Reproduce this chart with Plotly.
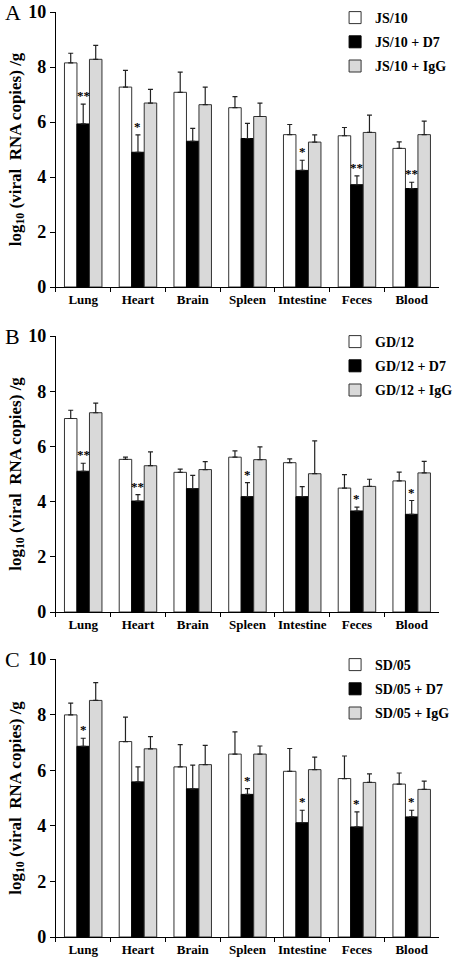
import plotly.graph_objects as go

organs = ["Lung", "Heart", "Brain", "Spleen", "Intestine", "Feces", "Blood"]

# Panel A (JS/10)
a_names = ["JS/10", "JS/10 + D7", "JS/10 + IgG"]
a_virus = [8.15, 7.27, 7.08, 6.52, 5.54, 5.50, 5.04]
a_virus_err = [0.35, 0.61, 0.73, 0.40, 0.37, 0.30, 0.24]
a_d7 = [5.93, 4.90, 5.30, 5.40, 4.24, 3.72, 3.58]
a_d7_err = [0.72, 0.63, 0.47, 0.55, 0.37, 0.32, 0.23]
a_igg = [8.28, 6.69, 6.63, 6.20, 5.27, 5.62, 5.54]
a_igg_err = [0.51, 0.50, 0.64, 0.49, 0.26, 0.63, 0.49]
a_sig = ["**", "*", "", "", "*", "**", "**"]

# Panel B (GD/12)
b_names = ["GD/12", "GD/12 + D7", "GD/12 + IgG"]
b_virus = [7.01, 5.53, 5.06, 5.61, 5.41, 4.49, 4.75]
b_virus_err = [0.30, 0.08, 0.12, 0.23, 0.14, 0.49, 0.32]
b_d7 = [5.10, 4.02, 4.47, 4.18, 4.18, 3.66, 3.54]
b_d7_err = [0.29, 0.23, 0.48, 0.51, 0.36, 0.14, 0.50]
b_igg = [7.22, 5.30, 5.16, 5.52, 5.01, 4.55, 5.04]
b_igg_err = [0.35, 0.50, 0.29, 0.46, 1.19, 0.26, 0.42]
b_sig = ["**", "**", "", "*", "", "*", "*"]

# Panel C (SD/05)
c_names = ["SD/05", "SD/05 + D7", "SD/05 + IgG"]
c_virus = [7.99, 7.03, 6.12, 6.58, 5.96, 5.70, 5.50]
c_virus_err = [0.42, 0.88, 0.80, 0.80, 0.82, 0.81, 0.40]
c_d7 = [6.86, 5.58, 5.33, 5.13, 4.11, 3.96, 4.32]
c_d7_err = [0.29, 0.54, 0.85, 0.21, 0.45, 0.54, 0.24]
c_igg = [8.51, 6.77, 6.20, 6.58, 6.02, 5.56, 5.31]
c_igg_err = [0.64, 0.44, 0.69, 0.29, 0.45, 0.31, 0.30]
c_sig = ["*", "", "", "*", "*", "*", "*"]

panel_letters = ["A", "B", "C"]
y_title = "log<sub>10</sub> (viral  RNA copies) /g"

FONT = "Liberation Serif, Times New Roman, serif"
W, H = 458, 962
x_dom = [58 / W, 456 / W]
y_px = [(12, 287), (336, 612), (659, 937)]

fills = ["#ffffff", "#000000", "#d9d9d9"]
outlines = ["#333333", "#000000", "#333333"]

panels = [
    (a_names, [a_virus, a_d7, a_igg], [a_virus_err, a_d7_err, a_igg_err], a_sig),
    (b_names, [b_virus, b_d7, b_igg], [b_virus_err, b_d7_err, b_igg_err], b_sig),
    (c_names, [c_virus, c_d7, c_igg], [c_virus_err, c_d7_err, c_igg_err], c_sig),
]

fig = go.Figure()
annotations = []
layout = dict(
    template="none",
    width=W, height=H, margin=dict(l=0, r=0, t=0, b=0),
    paper_bgcolor="white", plot_bgcolor="white",
    barmode="group", bargap=0.315, bargroupgap=0,
    font=dict(family=FONT, color="black"),
    showlegend=True,
)

for p, (names, vals, errs, sig) in enumerate(panels):
    sfx = "" if p == 0 else str(p + 1)
    xa, ya = "x" + sfx, "y" + sfx
    leg = "legend" + sfx
    top, bot = y_px[p]
    for k in range(3):
        fig.add_trace(go.Bar(
            x=organs, y=vals[k], name=names[k], xaxis=xa, yaxis=ya,
            legend=leg, legendgroup=f"p{p}g{k}", offsetgroup=str(k),
            marker=dict(color=fills[k], line=dict(color=outlines[k], width=1)),
            error_y=dict(type="data", array=errs[k], arrayminus=[0] * len(errs[k]),
                         symmetric=False, color="#222222", thickness=1.2, width=2.5),
        ))
    d7, d7e = vals[1], errs[1]
    for i, s in enumerate(sig):
        if s:
            annotations.append(dict(
                x=organs[i], y=d7[i] + d7e[i], xref=xa, yref=ya, text="<b>" + s + "</b>",
                showarrow=False, yanchor="bottom", yshift=-1,
                font=dict(family=FONT, size=13, color="#000000"),
            ))
    annotations.append(dict(
        x=3 / W, y=1 - top / H, xref="paper", yref="paper", text=panel_letters[p],
        showarrow=False, xanchor="left", yanchor="middle",
        font=dict(family=FONT, size=22, color="black"),
    ))
    layout["xaxis" + sfx] = dict(
        domain=x_dom, anchor=ya, showline=True, linecolor="black", linewidth=1.2,
        ticks="outside", ticklen=4, tickcolor="black", tickson="boundaries",
        tickangle=0,
        tickfont=dict(family=FONT, size=13, color="black", weight="bold"),
        showgrid=False, zeroline=False, fixedrange=True,
    )
    layout["yaxis" + sfx] = dict(
        domain=[1 - bot / H, 1 - top / H], anchor=xa, range=[0, 10], dtick=2,
        showline=True, linecolor="black", linewidth=1.2,
        ticks="outside", ticklen=5, tickcolor="black",
        tickfont=dict(family=FONT, size=18, color="black", weight="bold"),
        showgrid=False, zeroline=False,
        title=dict(text=y_title, standoff=2,
                   font=dict(family=FONT, size=17, color="black", weight="bold")),
    )
    layout[leg] = dict(
        x=348 / W, y=1 - (top - 10) / H, xanchor="left", yanchor="top",
        bgcolor="rgba(0,0,0,0)", tracegroupgap=3, itemclick=False,
        font=dict(family=FONT, size=14, color="black", weight="bold"),
    )

layout["annotations"] = annotations
fig.update_layout(**layout)
fig.write_html(
    "out.html",
    config={"displayModeBar": False},
    post_script="document.body.style.margin='0';document.body.style.padding='0';",
)
